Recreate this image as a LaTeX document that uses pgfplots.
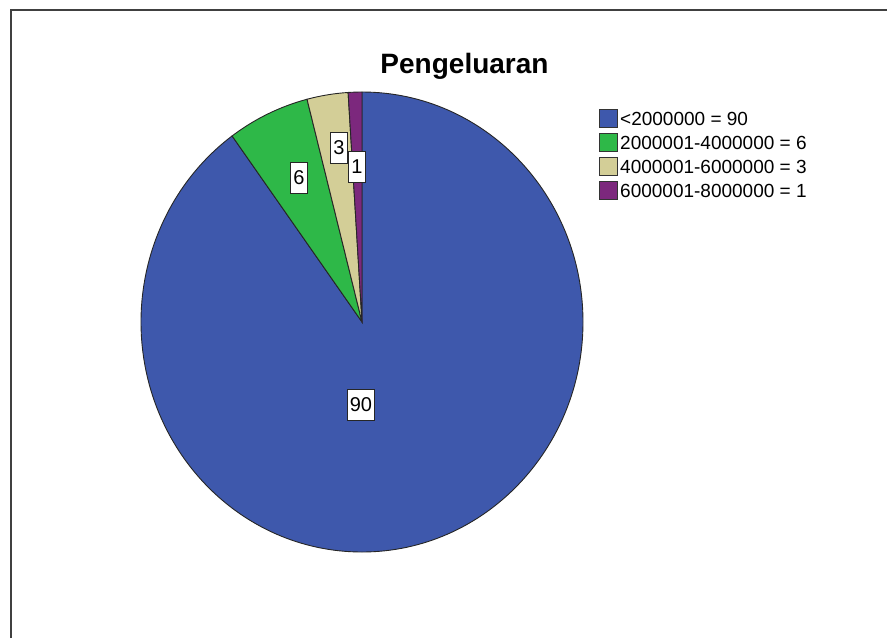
\documentclass[border=0pt]{standalone}
\usepackage{pgfplots}
\usepackage{pgfplotstable}
\pgfplotsset{compat=1.18}
\usepackage{fontspec}
\setmainfont{Liberation Sans}
\definecolor{pieblue}{HTML}{3E58AC}
\definecolor{piegreen}{HTML}{2EB848}
\definecolor{pietan}{HTML}{D3CE97}
\definecolor{piepurple}{HTML}{7C287D}

\pgfplotstableread{
value lx ly
90 361 404.5
6 299 177.5
3 339 147.5
1 357 166.5
}\piedata

\pgfplotstablegetelem{0}{value}\of\piedata \edef\vA{\pgfplotsretval}
\pgfplotstablegetelem{1}{value}\of\piedata \edef\vB{\pgfplotsretval}
\pgfplotstablegetelem{2}{value}\of\piedata \edef\vC{\pgfplotsretval}
\pgfplotstablegetelem{3}{value}\of\piedata \edef\vD{\pgfplotsretval}
\pgfplotstablegetelem{0}{lx}\of\piedata \edef\xA{\pgfplotsretval}
\pgfplotstablegetelem{1}{lx}\of\piedata \edef\xB{\pgfplotsretval}
\pgfplotstablegetelem{2}{lx}\of\piedata \edef\xC{\pgfplotsretval}
\pgfplotstablegetelem{3}{lx}\of\piedata \edef\xD{\pgfplotsretval}
\pgfplotstablegetelem{0}{ly}\of\piedata \edef\yA{\pgfplotsretval}
\pgfplotstablegetelem{1}{ly}\of\piedata \edef\yB{\pgfplotsretval}
\pgfplotstablegetelem{2}{ly}\of\piedata \edef\yC{\pgfplotsretval}
\pgfplotstablegetelem{3}{ly}\of\piedata \edef\yD{\pgfplotsretval}
\pgfmathsetmacro\tot{\vA+\vB+\vC+\vD}
\pgfmathsetmacro\aA{90-360*(\vA/\tot)}
\pgfmathsetmacro\aB{\aA-360*(\vB/\tot)}
\pgfmathsetmacro\aC{\aB-360*(\vC/\tot)}
\pgfmathsetmacro\aD{\aC-360*(\vD/\tot)}

\begin{document}
\begin{tikzpicture}
\begin{axis}[x=1pt, y=1pt, y dir=reverse,
  xmin=0, xmax=887, ymin=0, ymax=638,
  hide axis, clip=false]
\coordinate (BL) at (axis cs:0,638);
\coordinate (TR) at (axis cs:887,0);
\draw[line width=1.3pt, black!75] (axis cs:11,638) -- (axis cs:11,10) -- (axis cs:887,10);
% slices
\filldraw[fill=pieblue, draw=black!85, line width=0.9pt] (axis cs:362,322) -- ([shift={(90:221pt and 230pt)}]axis cs:362,322) arc[start angle=90, end angle=\aA, x radius=221pt, y radius=230pt] -- cycle;
\filldraw[fill=piegreen, draw=black!85, line width=0.9pt] (axis cs:362,322) -- ([shift={(\aA:221pt and 230pt)}]axis cs:362,322) arc[start angle=\aA, end angle=\aB, x radius=221pt, y radius=230pt] -- cycle;
\filldraw[fill=pietan, draw=black!85, line width=0.9pt] (axis cs:362,322) -- ([shift={(\aB:221pt and 230pt)}]axis cs:362,322) arc[start angle=\aB, end angle=\aC, x radius=221pt, y radius=230pt] -- cycle;
\filldraw[fill=piepurple, draw=black!85, line width=0.9pt] (axis cs:362,322) -- ([shift={(\aC:221pt and 230pt)}]axis cs:362,322) arc[start angle=\aC, end angle=\aD, x radius=221pt, y radius=230pt] -- cycle;
% labels
\tikzset{lbl/.style={draw=black!85, fill=white, line width=1pt, inner xsep=2.5pt, minimum height=31pt, font=\fontsize{20}{24}\selectfont}}
\node[lbl] at (axis cs:\xA,\yA) {\vA};
\node[lbl] at (axis cs:\xB,\yB) {\vB};
\node[lbl] at (axis cs:\xC,\yC) {\vC};
\node[lbl] at (axis cs:\xD,\yD) {\vD};
% title
\node[anchor=base, font=\fontsize{28}{32}\selectfont\bfseries] at (axis cs:464.5,73) {Pengeluaran};
% legend
\tikzset{lsq/.style={draw=black!80, line width=0.9pt}}
\filldraw[lsq, fill=pieblue] (axis cs:599,109.5) rectangle (axis cs:617,127.5);
\filldraw[lsq, fill=piegreen] (axis cs:599,133.5) rectangle (axis cs:617,151.5);
\filldraw[lsq, fill=pietan] (axis cs:599,157.5) rectangle (axis cs:617,175.5);
\filldraw[lsq, fill=piepurple] (axis cs:599,181.5) rectangle (axis cs:617,199.5);
\tikzset{ltx/.style={anchor=base west, inner xsep=0pt, font=\fontsize{19}{22}\selectfont}}
\node[ltx] at (axis cs:620,125) {<2000000 = 90};
\node[ltx] at (axis cs:620,149) {2000001-4000000 = 6};
\node[ltx] at (axis cs:620,173) {4000001-6000000 = 3};
\node[ltx] at (axis cs:620,197) {6000001-8000000 = 1};
\end{axis}
\pgfresetboundingbox
\useasboundingbox (BL) rectangle (TR);
\end{tikzpicture}
\end{document}
